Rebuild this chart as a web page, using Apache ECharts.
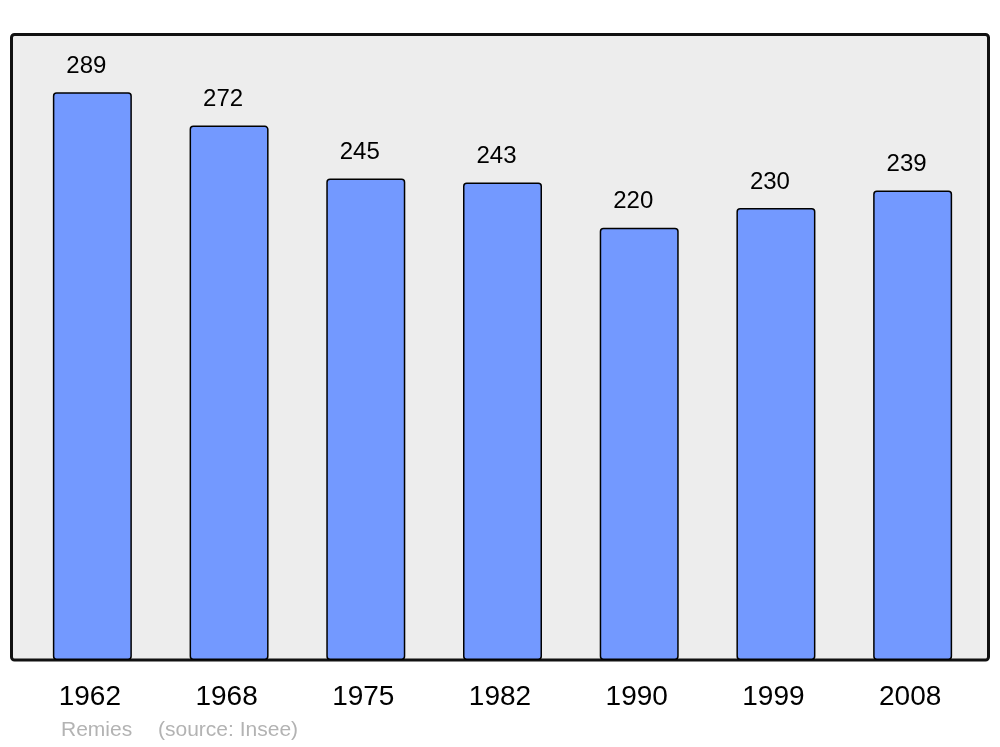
<!DOCTYPE html>
<html lang="fr">
<head>
    <meta charset="UTF-8">
    <title>Remies - population</title>
    <script src="https://cdn.jsdelivr.net/npm/echarts@6/dist/echarts.min.js"></script>
    <style>
        html, body { margin: 0; height: 100%; background: #fff; }
        #main { width: 1000px; height: 747px; }
    </style>
</head>
<body>
    <div id="main"></div>
    <script>
        // données
        var years = ['1962', '1968', '1975', '1982', '1990', '1999', '2008'];
        var population = [289, 272, 245, 243, 220, 230, 239];

        var chart = echarts.init(document.getElementById('main'));
        var font = '"Liberation Sans", Arial, sans-serif';

        var option = {
            animation: false,
            graphic: [
                {
                    type: 'rect',
                    z: -10,
                    shape: { x: 11.5, y: 34.5, width: 977, height: 625.5, r: 3 },
                    style: { fill: '#ededed', stroke: '#111', lineWidth: 3 }
                },
                {
                    type: 'text',
                    left: 61,
                    top: 720,
                    style: { text: 'Remies', fill: '#b3b3b3', font: '21px ' + font }
                },
                {
                    type: 'text',
                    left: 158,
                    top: 720,
                    style: { text: '(source: Insee)', fill: '#b3b3b3', font: '21px ' + font }
                }
            ],
            grid: { left: 24, right: 19, top: 34, bottom: 87 },
            xAxis: {
                type: 'category',
                data: years,
                axisLine: { show: false },
                axisTick: { show: false },
                axisLabel: {
                    margin: 23,
                    padding: [0, 5, 0, 0],
                    color: '#000',
                    fontSize: 28,
                    fontFamily: font
                }
            },
            yAxis: {
                type: 'value',
                min: 0,
                max: 318.6,
                show: false,
                splitLine: { show: false }
            },
            series: [{
                type: 'bar',
                data: population,
                barWidth: 79,
                itemStyle: {
                    color: '#7399ff',
                    borderColor: '#000',
                    borderWidth: 1.5,
                    borderRadius: 3
                },
                label: {
                    show: true,
                    position: 'top',
                    distance: 14,
                    offset: [-6, 0],
                    color: '#000',
                    fontSize: 24,
                    fontFamily: font
                }
            }]
        };

        chart.setOption(option);
    </script>
</body>
</html>
